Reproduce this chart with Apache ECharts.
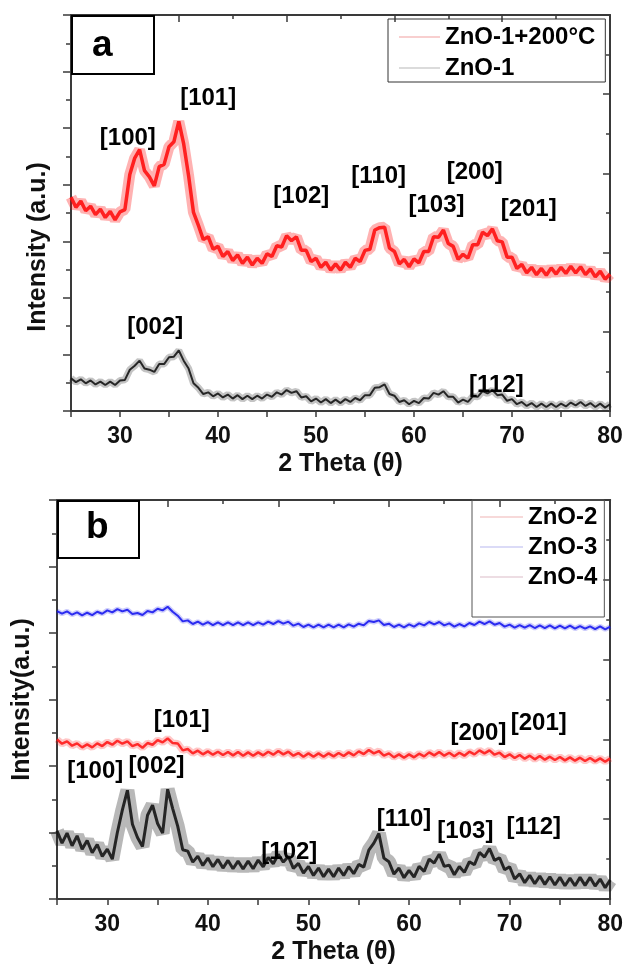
<!DOCTYPE html>
<html>
<head>
<meta charset="utf-8">
<script src="https://cdn.jsdelivr.net/npm/echarts@6/dist/echarts.min.js"></script>
<style>
  html, body { margin: 0; padding: 0; background: #fff; }
  #chart { width: 626px; height: 967px; }
</style>
</head>
<body>
<div id="chart"></div>
<script>
  // 2θ sampling (deg)
  var twoTheta = [25,25.5,26,26.5,27,27.5,28,28.5,29,29.5,30,30.5,31,31.5,32,32.5,33,33.5,34,34.5,
    35,35.5,36,36.5,37,37.5,38,38.5,39,39.5,40,40.5,41,41.5,42,42.5,43,43.5,44,44.5,
    45,45.5,46,46.5,47,47.5,48,48.5,49,49.5,50,50.5,51,51.5,52,52.5,53,53.5,54,54.5,
    55,55.5,56,56.5,57,57.5,58,58.5,59,59.5,60,60.5,61,61.5,62,62.5,63,63.5,64,64.5,
    65,65.5,66,66.5,67,67.5,68,68.5,69,69.5,70,70.5,71,71.5,72,72.5,73,73.5,74,74.5,
    75,75.5,76,76.5,77,77.5,78,78.5,79,79.5,80];

  // panel a
  var zno1Heated = [378,360,371,354,362,347,357,342,353,338,352,356,418,447,462,425,414,398,432,436,
    467,476,512,472,416,351,328,303,308,286,291,273,282,266,276,261,272,258,270,261,
    278,273,292,290,310,301,308,284,284,264,270,254,263,249,260,249,263,254,270,264,
    284,286,320,324,325,288,282,260,268,255,269,262,282,282,308,307,320,296,291,268,
    277,270,294,294,316,310,322,301,299,272,272,252,259,244,254,241,252,240,253,242,
    254,243,256,244,255,241,251,237,247,233,242];
  var zno1 = [58,51,56,49,54,47,52,46,52,46,54,55,73,80,89,75,73,69,83,83,
    95,96,107,89,75,49,41,30,33,26,31,24,29,22,28,21,27,21,27,22,
    29,25,33,29,37,32,35,24,26,17,22,15,21,14,20,14,21,16,23,19,
    28,28,41,42,47,30,27,16,19,12,18,14,23,22,32,29,35,25,25,15,
    20,16,26,25,35,31,37,28,29,18,21,12,16,9,14,7,13,7,13,7,
    13,8,15,10,16,9,14,7,13,6,12];

  // panel b
  var zno2 = [480,467,474,461,468,456,465,456,468,460,472,464,476,467,474,460,466,455,469,464,
    478,471,483,469,468,447,451,438,446,435,444,434,443,433,442,432,442,431,441,431,
    441,432,443,434,445,435,443,431,439,428,438,428,438,428,438,429,439,430,441,432,
    444,436,448,438,445,431,438,426,435,425,435,426,437,429,441,432,442,431,440,429,
    440,431,443,435,447,438,447,434,440,427,435,424,433,422,431,420,430,419,428,418,
    427,417,426,416,425,415,424,414,423,413,423];
  var zno3 = [866,858,865,855,862,853,861,854,864,858,868,862,872,865,870,857,860,854,866,862,
    873,868,879,864,852,835,838,827,834,825,833,824,832,824,832,824,832,824,832,824,
    832,825,834,827,836,828,834,822,828,818,825,817,825,817,825,817,825,817,826,819,
    828,823,836,833,838,824,828,818,825,817,826,819,829,823,833,826,833,823,829,819,
    827,820,830,824,834,827,835,825,830,819,825,816,824,816,824,815,823,815,823,814,
    822,814,822,813,821,813,820,812,820,811,819];
  var zno4 = [205,168,198,160,190,150,176,139,164,128,150,120,200,268,327,225,185,158,252,282,
    227,198,330,272,219,148,144,111,129,101,123,97,119,93,116,91,114,90,114,91,
    117,97,125,106,134,111,128,92,107,78,98,71,93,67,90,67,93,71,97,76,
    104,96,147,168,197,123,112,75,93,64,86,66,98,83,120,108,135,98,102,73,
    98,80,112,103,140,126,152,116,124,88,97,60,76,49,71,46,69,44,67,42,
    65,40,63,40,65,41,65,39,60,34,57];

  // peak labels
  var peakNamesA = ['[100]','[101]','[102]','[110]','[200]','[103]','[201]','[002]','[112]'];
  var peakXA = [30.8, 39.0, 48.5, 56.4, 66.2, 62.3, 71.7, 33.6, 68.4];
  var peakYA = [482, 553, 380, 415, 422, 364, 357, 147, 46];
  var peakNamesB = ['[101]','[200]','[201]','[100]','[002]','[102]','[110]','[103]','[112]'];
  var peakXB = [37.4, 66.9, 72.9, 28.8, 34.9, 48.1, 59.5, 65.6, 72.4];
  var peakYB = [537, 498, 528, 384, 399, 141, 240, 204, 216];

  var font = "'Liberation Sans', Arial, sans-serif";
  var axisColor = '#3a3a3a';

  function pairs(xs, ys) {
    var out = [];
    for (var i = 0; i < xs.length; i++) out.push([xs[i], ys[i]]);
    return out;
  }

  function bottomAxis(gridIndex) {
    return {
      gridIndex: gridIndex, type: 'value', position: 'bottom', min: 25, max: 80, interval: 5,
      name: '2 Theta (θ)', nameLocation: 'middle', nameGap: 41,
      nameTextStyle: { fontFamily: font, fontWeight: 'bold', fontSize: 25, color: '#111' },
      axisLine: { lineStyle: { color: axisColor, width: 2 } },
      axisTick: { inside: false, length: 6, lineStyle: { color: axisColor, width: 1.5 } },
      axisLabel: {
        margin: 14, fontFamily: font, fontWeight: 'bold', fontSize: 23, color: '#111',
        formatter: function (v) { return v % 10 === 0 ? v : ''; }
      },
      splitLine: { show: false }
    };
  }
  function mirrorAxis(gridIndex, pos) {
    return {
      gridIndex: gridIndex, type: 'value', position: pos, min: 0, max: 10, interval: 2,
      axisLine: { show: true, onZero: false, lineStyle: { color: axisColor, width: 2 } },
      axisTick: { show: true, inside: true, length: 7, lineStyle: { color: axisColor, width: 1.5 } },
      minorTick: { show: true, splitNumber: 2, length: 4, lineStyle: { color: axisColor, width: 1.5 } },
      axisLabel: { show: false },
      splitLine: { show: false }
    };
  }
  function leftAxis(gridIndex, max, interval, title, gap, shift) {
    return {
      gridIndex: gridIndex, type: 'value', position: 'left', min: 0, max: max, interval: interval,
      name: title, nameLocation: 'middle', nameGap: gap,
      nameTextStyle: {
        fontFamily: font, fontWeight: 'bold', fontSize: 25, color: '#111',
        padding: [0, shift, 0, 0]
      },
      axisLine: { show: true, lineStyle: { color: axisColor, width: 2 } },
      axisTick: { show: true, inside: false, length: 8, lineStyle: { color: axisColor, width: 1.5 } },
      minorTick: { show: true, splitNumber: 2, length: 5, lineStyle: { color: axisColor, width: 1.5 } },
      axisLabel: { show: false },
      splitLine: { show: false }
    };
  }
  // each pattern = a faint wide band (noise spread) under a sharper core line
  function curve(name, data, color, width, haloWidth, haloOpacity, xi, yi) {
    return [{
      name: name + ' band', type: 'line', xAxisIndex: xi, yAxisIndex: yi,
      data: pairs(twoTheta, data), showSymbol: false, symbol: 'none',
      lineStyle: { color: color, width: haloWidth, opacity: haloOpacity },
      z: 1, silent: true
    }, {
      name: name, type: 'line', xAxisIndex: xi, yAxisIndex: yi,
      data: pairs(twoTheta, data), showSymbol: false, symbol: 'none',
      lineStyle: { color: color, width: width, opacity: 0.9, join: 'bevel' }, itemStyle: { color: color },
      z: 2, silent: true
    }];
  }
  function peakLabels(names, xs, ys, xi, yi) {
    var data = [];
    for (var i = 0; i < names.length; i++) data.push([xs[i], ys[i], names[i]]);
    return {
      type: 'custom', xAxisIndex: xi, yAxisIndex: yi, z: 5, silent: true,
      encode: { x: 0, y: 1 },
      renderItem: function (params, api) {
        var p = api.coord([api.value(0), api.value(1)]);
        return {
          type: 'text', x: p[0], y: p[1],
          style: {
            text: names[params.dataIndex], fill: '#000', align: 'center', verticalAlign: 'middle',
            fontFamily: font, fontWeight: 'bold', fontSize: 24
          }
        };
      },
      data: data
    };
  }
  var legendText = { fontFamily: font, fontWeight: 'bold', fontSize: 24, color: '#000' };

  var series = [].concat(
    curve('ZnO-1+200°C', zno1Heated, '#ff1010', 3.5, 11, 0.32, 0, 0),
    curve('ZnO-1', zno1, '#151515', 2, 7, 0.25, 0, 0),
    [peakLabels(peakNamesA, peakXA, peakYA, 0, 0)],
    curve('ZnO-2', zno2, '#ff1a1a', 2.5, 7, 0.25, 2, 2),
    curve('ZnO-3', zno3, '#1a1aee', 2, 5, 0.22, 2, 2),
    curve('ZnO-4', zno4, '#151515', 3, 14, 0.3, 2, 2),
    [peakLabels(peakNamesB, peakXB, peakYB, 2, 2)]
  );

  var chart = echarts.init(document.getElementById('chart'));
  chart.setOption({
    animation: false,
    backgroundColor: '#fff',
    grid: [
      { left: 71, top: 15, width: 539, height: 396 },
      { left: 57, top: 500, width: 555, height: 399 }
    ],
    xAxis: [bottomAxis(0), mirrorAxis(0, 'top'), bottomAxis(1), mirrorAxis(1, 'top')],
    yAxis: [
      leftAxis(0, 700, 100, 'Intensity (a.u.)', 20, 68),
      mirrorAxis(0, 'right'),
      leftAxis(1, 1200, 200, 'Intensity(a.u.)', 22, 0),
      mirrorAxis(1, 'right')
    ],
    legend: [
      {
        left: 388, top: 19, orient: 'vertical', icon: 'rect', itemWidth: 41, itemHeight: 1,
        itemGap: 7, padding: [6, 10, 2, 11], borderColor: '#333', borderWidth: 1,
        textStyle: legendText,
        data: [
          { name: 'ZnO-1+200°C', itemStyle: { color: '#f2a0a0' } },
          { name: 'ZnO-1', itemStyle: { color: '#b8b8b8' } }
        ]
      },
      {
        left: 472, top: 500, orient: 'vertical', icon: 'rect', itemWidth: 43, itemHeight: 1,
        itemGap: 6, padding: [5, 7, 28, 8], borderColor: '#555', borderWidth: 1,
        textStyle: legendText,
        data: [
          { name: 'ZnO-2', itemStyle: { color: '#f0b4b4' } },
          { name: 'ZnO-3', itemStyle: { color: '#b8b8f0' } },
          { name: 'ZnO-4', itemStyle: { color: '#dcbcc8' } }
        ]
      }
    ],
    graphic: [
      { type: 'rect', left: 71, top: 15, shape: { width: 82, height: 58 }, z: 10,
        style: { fill: '#fff', stroke: '#000', lineWidth: 2 } },
      { type: 'text', left: 92, top: 27, z: 11,
        style: { text: 'a', fontFamily: font, fontWeight: 'bold', fontSize: 37, fill: '#000' } },
      { type: 'rect', left: 57, top: 500, shape: { width: 81, height: 57 }, z: 10,
        style: { fill: '#fff', stroke: '#000', lineWidth: 2 } },
      { type: 'text', left: 86, top: 509, z: 11,
        style: { text: 'b', fontFamily: font, fontWeight: 'bold', fontSize: 37, fill: '#000' } }
    ],
    series: series
  });
</script>
</body>
</html>
